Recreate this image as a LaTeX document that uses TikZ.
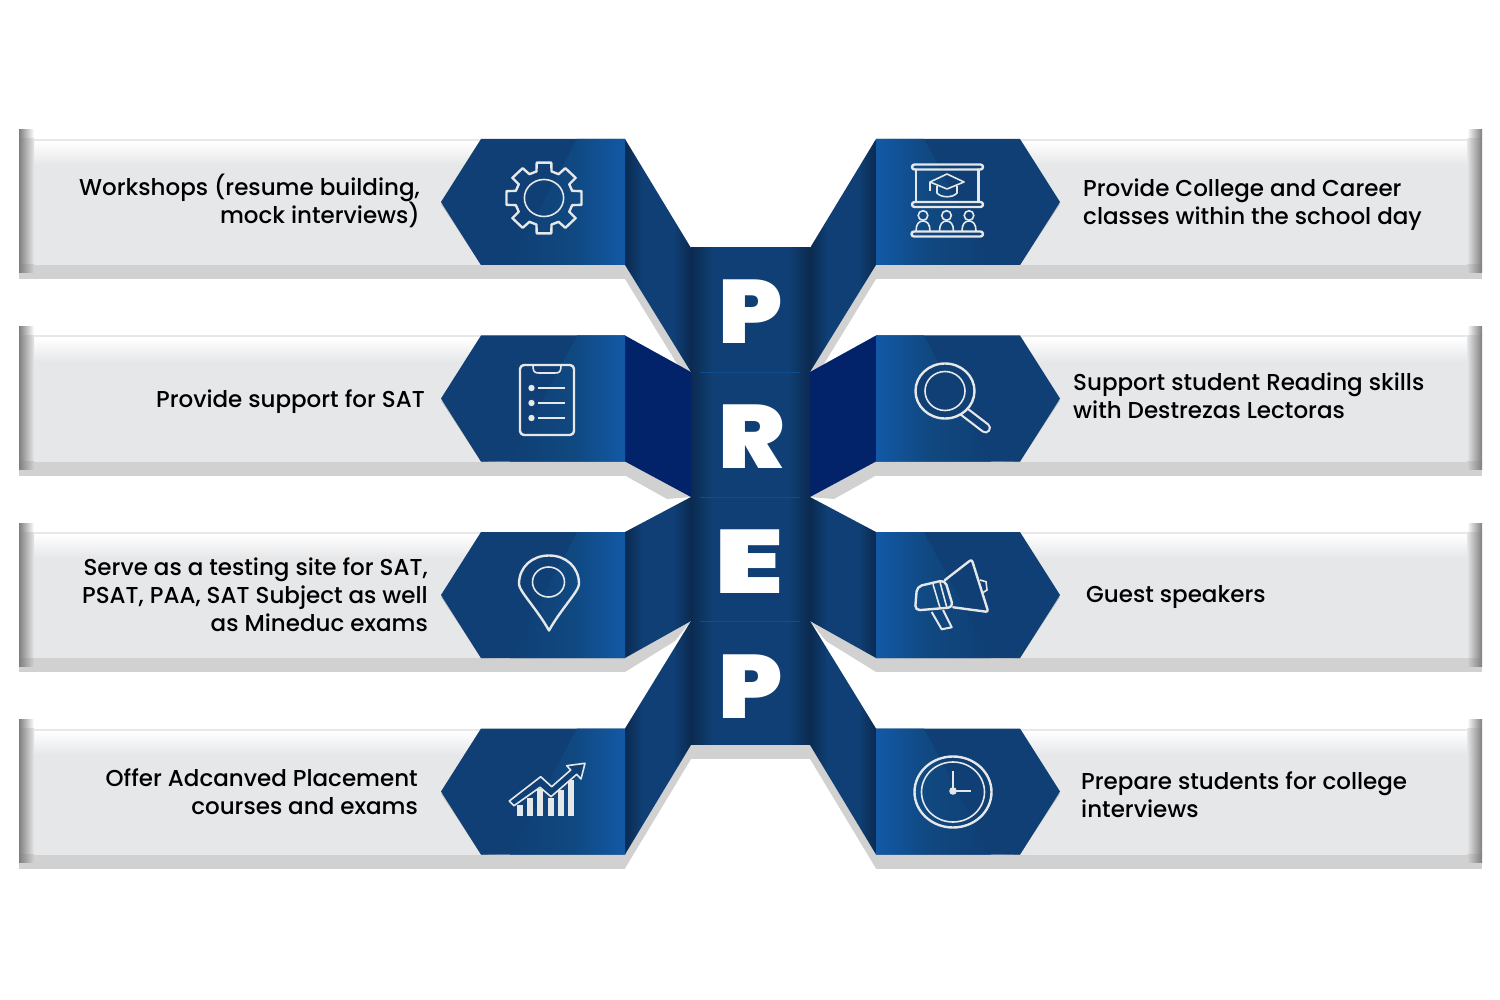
\documentclass[tikz,border=0pt]{standalone}
\usepackage{fontspec}
\setmainfont{Poppins Medium}
\newfontfamily\prepfont{Poppins Black}
\usetikzlibrary{positioning, calc}
\definecolor{bandGray}{HTML}{E6E7E9}
\definecolor{bandShadow}{HTML}{D1D1D1}
\definecolor{capDark}{HTML}{7F7F7F}
\definecolor{blueBase}{HTML}{0F3F74}
\definecolor{blueMid}{HTML}{104880}
\definecolor{blueLight}{HTML}{1259A6}
\definecolor{blueDark}{HTML}{0B2A50}
\definecolor{blueNavy}{HTML}{02226A}
\definecolor{iconLine}{HTML}{E6E7E9}
\pgfdeclarehorizontalshading{foldshade}{100bp}{color(0bp)=(blueDark);color(25bp)=(blueDark);color(38bp)=(blueBase);color(62bp)=(blueBase);color(75bp)=(blueDark);color(100bp)=(blueDark)}
\pgfdeclarehorizontalshading{navyshade}{100bp}{color(0bp)=(blueNavy);color(100bp)=(blueNavy)}
\pgfdeclarehorizontalshading{columnshade}{100bp}{color(0bp)=(blueDark);color(25bp)=(blueDark);color(34bp)=(blueBase);color(66bp)=(blueBase);color(75bp)=(blueDark);color(100bp)=(blueDark)}
\pgfdeclarehorizontalshading{hexshade}{100bp}{color(0bp)=(blueBase);color(25bp)=(blueBase);color(52bp)=(blueMid);color(75bp)=(blueLight);color(100bp)=(blueLight)}
\pgfdeclarehorizontalshading{captop}{100bp}{color(0bp)=(capDark);color(25bp)=(capDark);color(75bp)=(white);color(100bp)=(white)}
\pgfdeclarehorizontalshading{capmid}{100bp}{color(0bp)=(capDark);color(25bp)=(capDark);color(75bp)=(bandGray);color(100bp)=(bandGray)}
\pgfdeclarehorizontalshading{caplow}{100bp}{color(0bp)=(capDark);color(25bp)=(capDark);color(75bp)=(bandShadow);color(100bp)=(bandShadow)}
\tikzset{
    caption/.style={font=\fontsize{23}{28}\selectfont, text=black, inner sep=0pt},
    captionleft/.style={caption, align=right, anchor=east},
    captionright/.style={caption, align=left, anchor=west},
    letter/.style={font=\prepfont\fontsize{90}{90}\selectfont, text=white, inner sep=0pt, xscale=1.1},
    icon/.style={draw=iconLine, line width=2.4pt, line join=round, line cap=round},
    iconthin/.style={draw=iconLine, line width=1.6pt},
    foldmain/.style={shade, shading=foldshade},
    foldnavy/.style={shade, shading=navyshade}
}
\begin{document}
\begin{tikzpicture}[x=1pt, y=-1pt]
    \useasboundingbox (0,0) rectangle (1500,1000);

    % wings, left side and then the mirrored right side
    \foreach \sidescale/\sideshift/\ang in {1/0/0, -1/1501/180} {
    \foreach \yoff/\fta/\ftb/\shx/\shy/\foldkind in {0/248/372/682/372/foldmain, 196.5/175.5/300.5/667/302.5/foldnavy, 393/104/228/675/248/foldmain, 589.5/31.5/155.5/691/169.5/foldmain} {
    \begin{scope}[yshift=-\yoff pt, xshift=\sideshift pt, xscale=\sidescale]
        \fill [bandGray] (19,139) rectangle (625,265);
        \fill [bandShadow] (19,265) rectangle (625,279);
        \fill [black!9] (34,139) rectangle (500,141.5);
        \shade [top color=white, bottom color=bandGray] (34,141.5) rectangle (500,165);
        \shade [shading=captop, shading angle=\ang] (19,130) rectangle (34,139);
        \shade [shading=capmid, shading angle=\ang] (19,139) rectangle (34,265);
        \shade [shading=caplow, shading angle=\ang] (19,265) rectangle (34,273);
        \fill [black, opacity=0.18] (441,204) -- (481,265) -- (497,265) -- (451,204) -- cycle;
        \fill [black, opacity=0.35] (445,208) -- (481,265) -- (488,265) -- cycle;
        \fill [bandShadow] (625,265) -- (625,279) -- (\shx,\shy) -- (691,\ftb) -- cycle;
        \path [\foldkind, shading angle=\ang] (625,139) -- (691,\fta) -- (691,\ftb) -- (625,265) -- cycle;
        \fill [blueBase] (441,202) -- (481,139) -- (625,139) -- (625,265) -- (481,265) -- cycle;
        \shade [shading=hexshade, shading angle=\ang] (577,139) -- (625,139) -- (625,265) -- (510,265) -- cycle;
    \end{scope}
    }
    }

    % centre column
    \foreach \ytop/\ybot in {248/372.5, 372/497.5, 497/621.5, 621/745} {
        \shade [shading=columnshade] (691,\ytop) rectangle (810,\ybot);
    }
    \fill [bandShadow] (691,745) rectangle (810,759);
    \foreach \yseam in {372, 497, 621} {
        \draw [blueLight!50!blueBase, line width=0.4pt] (700,\yseam) -- (800,\yseam);
    }
    \node [letter] (Letter_P) at (750.5,311.5) {P};
    \node [letter] (Letter_R) at (752,436.5) {R};
    \node [letter, xscale=1.26] (Letter_E) at (749.5,561.5) {E};
    \node [letter] (Letter_Q) at (750.5,686.5) {P};

    % captions
    \node [captionleft] (Text_Workshops) at (420,201) {Workshops (resume building,\\mock interviews)};
    \node [captionleft] (Text_Support) at (425,402) {Provide support for SAT};
    \node [captionleft] (Text_Testing) at (428,595) {Serve as a testing site for SAT,\\PSAT, PAA, SAT Subject as well\\as Mineduc exams};
    \node [captionleft] (Text_Placement) at (418,792) {Offer Adcanved Placement\\courses and exams};
    \node [captionright] (Text_Classes) at (1083,205) {Provide College and Career\\classes within the school day};
    \node [captionright] (Text_Reading) at (1073,396) {Support student Reading skills\\with Destrezas Lectoras};
    \node [captionright] (Text_Guest) at (1086,597) {Guest speakers};
    \node [captionright] (Text_Interviews) at (1081,795) {Prepare students for college\\interviews};

    % gear
    \begin{scope}[shift={(544,198)}, xscale=1.06]
        \foreach \a in {0,45,...,315} {
            \draw [icon] (\a-15:27.5) -- (\a-11:36) -- (\a+11:36) -- (\a+15:27.5) -- (\a+30:27.5);
        }
        \draw [iconthin] (0,0) circle (18.5);
    \end{scope}

    % clipboard
    \draw [icon, rounded corners=4pt] (520,365) rectangle (574,435);
    \draw [iconthin] (533,366) .. controls (533,372) and (535,373) .. (539,373) -- (555,373) .. controls (559,373) and (561,372) .. (561,366);
    \foreach \yy in {388,403,418} {
        \fill [iconLine] (531.5,\yy) circle (3.2);
        \draw [iconthin] (538,\yy) -- (565,\yy);
    }

    % pin
    \draw [icon] (549,630.5) .. controls (537,609) and (519,591) .. (519,584) .. controls (519,567) and (532,555.5) .. (549,555.5) .. controls (566,555.5) and (579,567) .. (579,584) .. controls (579,591) and (561,609) .. (549,630.5) -- cycle;
    \draw [iconthin] (548.5,582) ellipse (16 and 15);

    % chart
    \foreach \xx/\yy in {517/805, 527/798, 537/789, 547.5/798, 558/790, 568/780} {
        \fill [iconLine] (\xx,\yy) rectangle (\xx+6.3,816);
    }
    \draw [iconthin, fill=blueBase, line join=round] (509.3,801) -- (540.7,776.7) -- (551.7,786.7) -- (570.7,770) -- (566.7,765.7) -- (585,763.3) -- (581,779) -- (576.7,774.3) -- (551,796.7) -- (540,787.3) -- (514,805.7) -- cycle;

    % lecture room
    \draw [icon, rounded corners=2.5pt] (912,164.5) rectangle (983,169.5);
    \draw [icon] (916,169.5) -- (916,202) (978.5,169.5) -- (978.5,202);
    \draw [icon, rounded corners=2.5pt] (912,202) rectangle (983,207);
    \draw [iconthin, line join=round] (930,182) -- (947,174) -- (964,182) -- (947,189) -- cycle;
    \draw [iconthin] (930,182) -- (930,191);
    \draw [iconthin] (937,186) -- (937,193) .. controls (941,198) and (953,198) .. (957,193) -- (957,186);
    \foreach \xx in {923,946.5,969} {
        \draw [iconthin] (\xx,215.5) circle (4.8);
        \draw [iconthin] (\xx-7,231) .. controls (\xx-7,224) and (\xx-4,221) .. (\xx,221) .. controls (\xx+4,221) and (\xx+7,224) .. (\xx+7,231);
    }
    \draw [icon, rounded corners=2.5pt] (911.5,231.5) rectangle (983,236.5);

    % magnifier
    \draw [iconLine, line width=11pt, line cap=round] (962,410) -- (985.5,428);
    \draw [blueBase, line width=6.5pt, line cap=round] (962,410) -- (985.5,428);
    \fill [blueBase] (945,391) ellipse (29 and 27);
    \draw [icon] (945,391) ellipse (29.5 and 27.5);
    \draw [iconthin] (945,391) ellipse (20 and 19.5);

    % megaphone
    \draw [icon, rounded corners=2.5pt] (945,580) -- (971.7,559.3) -- (988.3,612) -- (953.3,607.3);
    \draw [icon, rounded corners=5pt] (945,580) -- (917,586.5) -- (915,610.5) -- (953.3,607.3) -- cycle;
    \draw [iconthin] (933,584.3) -- (940,607.8) (940,582.3) -- (946.7,607);
    \draw [iconthin, line join=round, line width=2pt] (931.7,612) -- (941.7,629.3) -- (951.7,627.3) -- (943,610);
    \draw [iconthin] (980,580) -- (986,581.7) -- (987,590) -- (982.7,592.7);

    % clock
    \draw [icon] (953,792) ellipse (38.5 and 35.5);
    \draw [iconthin] (953,792) ellipse (31.5 and 30);
    \draw [iconthin] (953,771) -- (953,791) -- (971,791);
    \fill [iconLine] (953,791) circle (3.8);
\end{tikzpicture}
\end{document}
